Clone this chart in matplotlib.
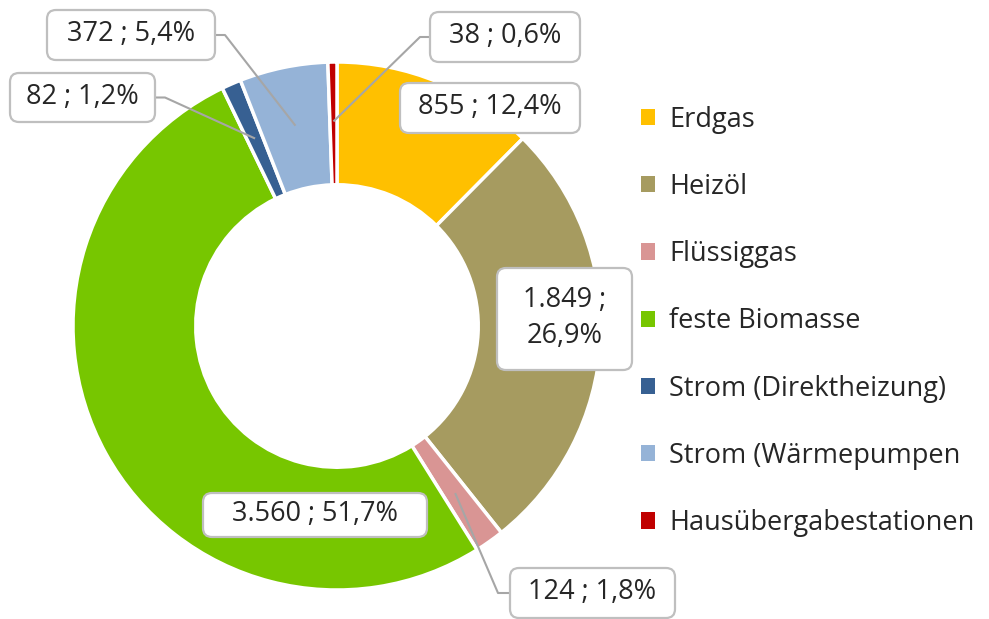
import matplotlib
matplotlib.use("Agg")
import matplotlib.pyplot as plt
from matplotlib.patches import FancyBboxPatch, Patch
import numpy as np

plt.rcParams['font.family'] = ['Open Sans', 'DejaVu Sans']

categories = ["Erdgas", "Heizöl", "Flüssiggas", "feste Biomasse",
              "Strom (Direktheizung)", "Strom (Wärmepumpen", "Hausübergabestationen"]
values = [855, 1849, 124, 3560, 82, 372, 38]
label_texts = ["855 ; 12,4%", "1.849 ;\n26,9%", "124 ; 1,8%", "3.560 ; 51,7%",
               "82 ; 1,2%", "372 ; 5,4%", "38 ; 0,6%"]
colors = ["#FFC000", "#A69B60", "#D99594", "#77C600", "#376092", "#95B3D7", "#C00000"]

W, H = 989, 619
fig = plt.figure(figsize=(W / 100, H / 100), dpi=100)
ax = fig.add_axes([0, 0, 1, 1])

cx, cy, R = 337, H - 326, 264
wedges, _ = ax.pie(values, colors=colors, startangle=90, counterclock=False,
                   center=(cx, cy), radius=R,
                   wedgeprops=dict(width=R * 0.465, edgecolor="white", linewidth=2.5))
ax.set_xlim(0, W)
ax.set_ylim(0, H)
ax.set_aspect("equal")
ax.axis("off")

FS = 19.5
# label boxes (pixel layout: center x, center y from top, width, height)
boxes = [(490, 108, 180, 50), (564.5, 319, 135, 102), (592.5, 593, 165, 50),
         (315, 515, 224, 44), (82.5, 97.5, 145, 49), (131, 35, 168, 50),
         (505, 37, 150, 50)]
# leader elbows (None = no leader)
elbows = [None, None, (498, 593), None, (165, 97.5), (225, 35), (420, 37)]

for w, txt, (bx, by, bw, bh), elb in zip(wedges, label_texts, boxes, elbows):
    by_d = H - by
    if elb is not None:
        mid = np.deg2rad((w.theta1 + w.theta2) / 2)
        r_anchor = R * 0.775
        axp = cx + r_anchor * np.cos(mid)
        ayp = cy + r_anchor * np.sin(mid)
        ex, ey = elb[0], H - elb[1]
        ax.plot([axp, ex, bx], [ayp, ey, by_d], color="#A6A6A6", lw=1.5,
                zorder=3, solid_capstyle="butt")
    box = FancyBboxPatch((bx - bw / 2, by_d - bh / 2), bw, bh,
                         boxstyle="round,pad=0,rounding_size=9",
                         facecolor="white", edgecolor="#BFBFBF", lw=1.6, zorder=4)
    ax.add_patch(box)
    ax.text(bx, by_d + 1, txt, ha="center", va="center", fontsize=FS,
            color="#262626", zorder=5, linespacing=1.35)

handles = [Patch(facecolor=c, edgecolor="none") for c in colors]
leg = ax.legend(handles, categories, loc="upper left",
                bbox_to_anchor=(627 / W, 1 - 92 / H), frameon=False,
                fontsize=FS, labelspacing=1.45, handlelength=0.55,
                handleheight=0.55, handletextpad=0.5, borderpad=0,
                labelcolor="#262626")

fig.savefig("out.png", dpi=100, facecolor="white")
